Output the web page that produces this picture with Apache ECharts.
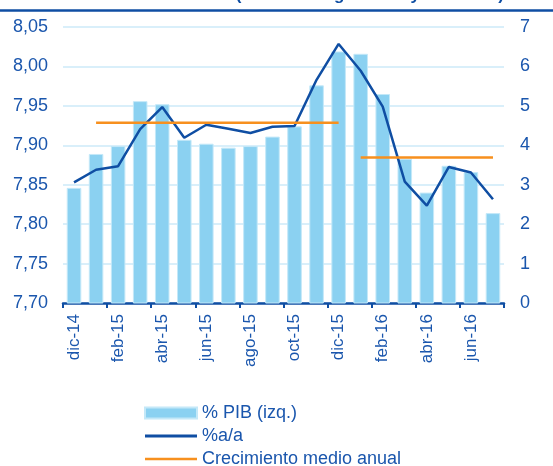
<!DOCTYPE html>
<html>
<head>
<meta charset="utf-8">
<script src="https://cdn.jsdelivr.net/npm/echarts@6/dist/echarts.min.js"></script>
<style>
    html, body {margin: 0; padding: 0; background: #fff;}
    #chart {width: 553px; height: 466px;}
</style>
</head>
<body>
<div id="chart"></div>
<script>
// meses
var categories = ['dic-14', 'ene-15', 'feb-15', 'mar-15', 'abr-15', 'may-15', 'jun-15', 'jul-15', 'ago-15', 'sep-15',
    'oct-15', 'nov-15', 'dic-15', 'ene-16', 'feb-16', 'mar-16', 'abr-16', 'may-16', 'jun-16', 'jul-16'];
// % PIB (eje izq.)
var pib = [7.846, 7.889, 7.899, 7.956, 7.952, 7.907, 7.902, 7.897, 7.899, 7.911,
    7.924, 7.976, 8.019, 8.016, 7.965, 7.883, 7.840, 7.874, 7.866, 7.814];
// %a/a (eje der.)
var aa = [3.06, 3.38, 3.47, 4.41, 4.97, 4.19, 4.52, 4.42, 4.31, 4.47,
    4.49, 5.66, 6.57, 5.89, 4.98, 3.08, 2.47, 3.45, 3.31, 2.63];
// crecimiento medio anual 2015 y 2016
var medio15 = [null, 4.57, 4.57, 4.57, 4.57, 4.57, 4.57, 4.57, 4.57, 4.57,
    4.57, 4.57, 4.57, null, null, null, null, null, null, null];
var medio16 = [null, null, null, null, null, null, null, null, null, null,
    null, null, null, 3.69, 3.69, 3.69, 3.69, 3.69, 3.69, 3.69];
var leftTicks = [7.70, 8.05, 0.05];
var rightTicks = [0, 7, 1];

var blue = '#1a56ad',
    dark = '#0f4ea3',
    orange = '#f7901e',
    font = 'Liberation Sans, Arial, sans-serif';

var option = {
    animation: false,
    backgroundColor: '#fff',
    graphic: [
        {
            // título (cortado arriba, solo se ven los trazos inferiores)
            type: 'text',
            x: 504,
            y: -13,
            style: {text: 'Crédito total (% PIB en logaritmos y %a/a real)', fill: dark,
                font: 'bold 17px ' + font, align: 'right', verticalAlign: 'top'}
        },
        {
            type: 'line',
            shape: {x1: 0, y1: 10.5, x2: 553, y2: 10.5},
            style: {stroke: dark, lineWidth: 2.5}
        }
    ],
    grid: {left: 63, right: 49, top: 27, bottom: 163},
    legend: {
        orient: 'vertical',
        left: 144,
        top: 404,
        height: 100,
        padding: 0,
        itemWidth: 52,
        itemHeight: 11,
        itemGap: 5,
        textStyle: {color: blue, fontSize: 18, lineHeight: 18, fontFamily: font},
        data: [
            {name: '% PIB (izq.)', icon: 'rect'},
            {name: '%a/a', icon: 'path://M0,0 L52,0 L52,3 L0,3 Z'},
            {name: 'Crecimiento medio anual', icon: 'path://M0,0 L52,0 L52,2.5 L0,2.5 Z'}
        ]
    },
    xAxis: {
        type: 'category',
        data: categories,
        boundaryGap: true,
        axisLine: {lineStyle: {color: dark, width: 2.5}},
        axisTick: {show: true, interval: 1, length: 5, lineStyle: {color: dark, width: 2}},
        axisLabel: {interval: 1, rotate: 90, margin: 11, color: blue, fontSize: 17, fontFamily: font},
        splitLine: {show: false}
    },
    yAxis: [
        {
            type: 'value',
            min: leftTicks[0],
            max: leftTicks[1],
            interval: leftTicks[2],
            axisLine: {show: false},
            axisTick: {show: false},
            axisLabel: {
                margin: 15, color: blue, fontSize: 18, fontFamily: font,
                formatter: function (v) { return v.toFixed(2).replace('.', ','); }
            },
            splitLine: {lineStyle: {color: '#cdeaf8', width: 1.5}}
        },
        {
            type: 'value',
            min: rightTicks[0],
            max: rightTicks[1],
            interval: rightTicks[2],
            axisLine: {show: false},
            axisTick: {show: false},
            axisLabel: {margin: 16, color: blue, fontSize: 18, fontFamily: font},
            splitLine: {show: false}
        }
    ],
    series: [
        {
            name: '% PIB (izq.)',
            type: 'bar',
            yAxisIndex: 0,
            barWidth: '66%',
            itemStyle: {color: '#8bd1f1', borderColor: '#c4e8f8', borderWidth: 1},
            data: pib
        },
        {
            name: '%a/a',
            type: 'line',
            yAxisIndex: 1,
            symbol: 'none',
            lineStyle: {color: dark, width: 2.5},
            itemStyle: {color: dark},
            data: aa
        },
        {
            name: 'Crecimiento medio anual',
            type: 'line',
            yAxisIndex: 1,
            symbol: 'none',
            lineStyle: {color: orange, width: 2.5},
            itemStyle: {color: orange},
            data: medio15
        },
        {
            name: 'Crecimiento medio anual',
            type: 'line',
            yAxisIndex: 1,
            symbol: 'none',
            lineStyle: {color: orange, width: 2.5},
            itemStyle: {color: orange},
            data: medio16
        }
    ]
};

echarts.init(document.getElementById('chart')).setOption(option);
</script>
</body>
</html>
